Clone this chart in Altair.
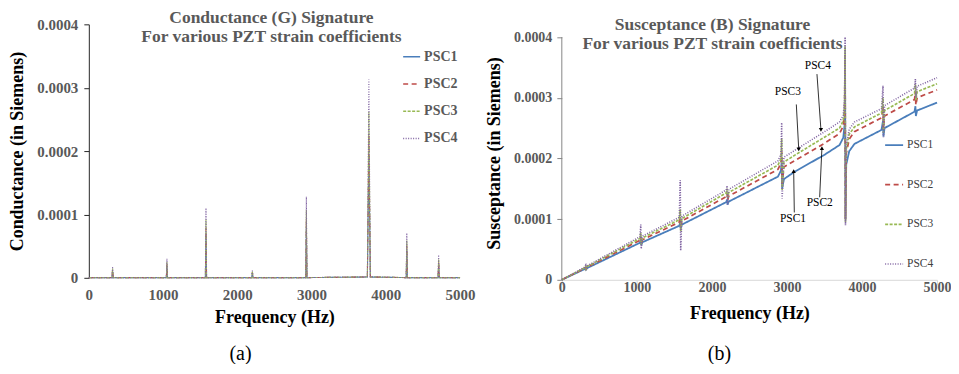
import altair as alt
import pandas as pd

SERIF = "Liberation Serif"
GRAY = "#595959"

SERIES = ["PSC1", "PSC2", "PSC3", "PSC4"]
COLORS = ["#4A7EBB", "#BE4B48", "#98B954", "#8064A2"]
DASHES = [[1, 0], [5, 3.5], [3, 1.5], [1, 1.5]]
WIDTHS = [1.8, 1.6, 1.4, 1.1]

X_TICKS = [0, 1000, 2000, 3000, 4000, 5000]
Y_TICKS = [0, 0.0001, 0.0002, 0.0003, 0.0004]

# ---- Conductance (G), values in micro-Siemens ----
g_freq = [0, 312, 320, 328, 1044, 1052, 1060, 1570, 1578, 1586, 2195, 2203, 2211,
          2922, 2930, 2938, 3752, 3772, 3792, 4275, 4283, 4291, 4704, 4712, 4720, 5000]
g_psc1 = [0.3, 0.3, 11, 0.3, 0.3, 18.5, 0.3, 0.3, 68, 0.3, 0.3, 8, 0.3,
          0.3, 79, 0.3, 1.2, 194, 1.2, 0.3, 44, 0.3, 0.3, 22, 0.3, 0.3]
g_psc2 = [0.3, 0.3, 12.7, 0.3, 0.3, 21.5, 0.3, 0.3, 79, 0.3, 0.3, 9, 0.3,
          0.3, 92, 0.3, 1.3, 225, 1.3, 0.3, 51, 0.3, 0.3, 26, 0.3, 0.3]
g_psc3 = [0.3, 0.3, 14.8, 0.3, 0.3, 25, 0.3, 0.3, 92, 0.3, 0.3, 10.5, 0.3,
          0.3, 107, 0.3, 1.4, 262, 1.4, 0.3, 59, 0.3, 0.3, 30, 0.3, 0.3]
g_psc4 = [0.3, 0.3, 17.7, 0.3, 0.3, 30, 0.3, 0.3, 110, 0.3, 0.3, 12.6, 0.3,
          0.3, 128, 0.3, 1.5, 313, 1.5, 0.3, 70.5, 0.3, 0.3, 36, 0.3, 0.3]

# ---- Susceptance (B), values in micro-Siemens ----
b_freq = [0, 300, 318, 324, 340, 1040, 1052, 1058, 1075, 1565, 1578, 1584, 1600,
          2190, 2203, 2208, 2225, 2880, 2920, 2930, 2936, 2960, 3100, 3500, 3700, 3750,
          3768, 3775, 3780, 3790, 3830, 3900, 4260, 4280, 4286, 4300, 4700, 4712, 4718, 4735, 5000]
b_psc1 = [0, 17.5, 19.5, 17, 19.5, 61, 66, 57, 62, 89, 94, 85, 91,
          128, 132, 124, 129, 170, 180, 195, 150, 166, 178, 206, 222, 234,
          255, 340, 100, 190, 212, 224, 247, 262, 236, 250, 277, 286, 270, 279, 292]
b_psc2 = [0, 18.7, 21, 18, 21, 65, 71, 60, 66, 95, 104, 87, 97,
          137, 143, 131, 138, 182, 192, 212, 158, 186, 196, 225, 241, 253,
          276, 370, 100, 208, 232, 244, 267, 285, 248, 270, 297, 310, 288, 300, 313]
b_psc3 = [0, 19.5, 22, 18.5, 22, 68, 77, 58, 69, 99, 116, 80, 101,
          143, 150, 135, 144, 189, 199, 232, 148, 194, 205, 235, 250, 262,
          286, 385, 95, 215, 240, 252, 275, 300, 242, 279, 307, 322, 296, 310, 323]
b_psc4 = [0, 20.3, 24, 18, 23, 71, 91, 51, 72, 103, 164, 48, 105,
          148, 155, 124, 149, 196, 206, 259, 134, 202, 213, 244, 260, 271,
          296, 400, 90, 222, 248, 260, 282, 320, 235, 287, 316, 331, 300, 319, 333]

# ---- annotations on susceptance chart ----
ann_labels = ["PSC4", "PSC3", "PSC2", "PSC1"]
ann_text_f = [3413, 3012, 3437, 3081]
ann_text_v = [352, 309, 126, 101]
ann_start_f = [3400, 3125, 3436, 3098]
ann_start_v = [339, 289, 136, 111]
ann_tip_f = [3453, 3157, 3466, 3090]
ann_tip_v = [247, 215, 217, 179]
ann_head = ["triangle-down", "triangle-down", "triangle-up", "triangle-up"]


def long_df(freq, lists):
    rows = []
    for s, vals in zip(SERIES, lists):
        for f, v in zip(freq, vals):
            rows.append({"series": s, "freq": f, "value": v * 1e-6})
    return pd.DataFrame(rows)


g_df = long_df(g_freq, [g_psc1, g_psc2, g_psc3, g_psc4])
b_df = long_df(b_freq, [b_psc1, b_psc2, b_psc3, b_psc4])
ann_df = pd.DataFrame({
    "label": ann_labels,
    "tf": ann_text_f, "tv": [v * 1e-6 for v in ann_text_v],
    "sf": ann_start_f, "sv": [v * 1e-6 for v in ann_start_v],
    "pf": ann_tip_f, "pv": [v * 1e-6 for v in ann_tip_v],
    "head": ann_head,
})


def legend(x, y, bold, size, fs, rowpad):
    return alt.Legend(
        title=None, orient="none", legendX=x, legendY=y, symbolType="stroke",
        symbolSize=size, symbolStrokeWidth=1.5, labelFont=SERIF, labelFontSize=fs,
        labelFontWeight="bold" if bold else "normal", labelColor=GRAY if bold else "#404040",
        rowPadding=rowpad, labelOffset=3, padding=0,
    )


def title(first_line, dx):
    return alt.TitleParams(
        text=[first_line, "For various PZT strain coefficients"],
        font=SERIF, fontSize=17.5, fontWeight="bold", color=GRAY, anchor="middle",
        frame="group", offset=-28, lineHeight=19, dx=dx,
    )


# ---------------- left chart ----------------
lg = legend(314, 23, True, 289, 14, 10.3)
left_lines = alt.Chart(g_df).mark_line(strokeWidth=1.1).encode(
    x=alt.X("freq:Q", scale=alt.Scale(domain=[0, 5000], nice=False),
            axis=alt.Axis(values=X_TICKS, format="d", title="Frequency (Hz)", domain=False,
                          ticks=False, tickSize=0, labelPadding=10, labelFlush=False,
                          labelFont=SERIF, labelFontSize=15, labelFontWeight="bold",
                          labelColor=GRAY, titleFont=SERIF, titleFontSize=18,
                          titleFontWeight="bold", titleColor="#000000", titlePadding=5.5,
                          grid=False)),
    y=alt.Y("value:Q", scale=alt.Scale(domain=[0, 0.0004], nice=False),
            axis=alt.Axis(values=Y_TICKS, format=".4~f", title="Conductance (in Siemens)",
                          domainColor="#262626", tickColor="#262626", tickSize=5,
                          labelPadding=6, labelFont=SERIF, labelFontSize=15,
                          labelFontWeight="bold", labelColor=GRAY, titleFont=SERIF,
                          titleFontSize=18, titleFontWeight="bold", titleColor="#000000",
                          titlePadding=10, grid=False)),
    color=alt.Color("series:N", scale=alt.Scale(domain=SERIES, range=COLORS), legend=lg),
    strokeDash=alt.StrokeDash("series:N", scale=alt.Scale(domain=SERIES, range=DASHES), legend=lg),
)
cap_a = alt.Chart(pd.DataFrame({"cap": ["(a)"]})).mark_text(
    font=SERIF, fontSize=20, color="#000000", baseline="middle", align="center"
).encode(text="cap:N", x=alt.value(152), y=alt.value(330))

left = alt.layer(left_lines, cap_a).properties(
    width=372, height=254, title=title("Conductance (G) Signature", -3)
)

# ---------------- right chart ----------------
rg = legend(323, 111, False, 324, 11.5, 23.7)
right_lines = alt.Chart(b_df).mark_line().encode(
    x=alt.X("freq:Q", scale=alt.Scale(domain=[0, 5000], nice=False),
            axis=alt.Axis(values=X_TICKS, format="d", title="Frequency (Hz)",
                          domainColor="#D9D9D9", tickColor="#D9D9D9", tickSize=5,
                          labelPadding=-4, labelFlush=False, labelFont=SERIF, labelFontSize=14,
                          labelFontWeight="bold", labelColor=GRAY, titleFont=SERIF,
                          titleFontSize=18, titleFontWeight="bold", titleColor="#000000",
                          titlePadding=10, grid=False)),
    y=alt.Y("value:Q", scale=alt.Scale(domain=[0, 0.000421], nice=False),
            axis=alt.Axis(values=Y_TICKS, format=".4~f", title="Susceptance (in Siemens)",
                          domain=False, tickColor="#868686", tickSize=5, labelPadding=5,
                          labelFont=SERIF, labelFontSize=14, labelFontWeight="bold",
                          labelColor=GRAY, titleFont=SERIF, titleFontSize=18,
                          titleFontWeight="bold", titleColor="#000000", titlePadding=10,
                          titleY=129, grid=False)),
    color=alt.Color("series:N", scale=alt.Scale(domain=SERIES, range=COLORS), legend=rg),
    strokeDash=alt.StrokeDash("series:N", scale=alt.Scale(domain=SERIES, range=DASHES), legend=rg),
    strokeWidth=alt.StrokeWidth("series:N", scale=alt.Scale(domain=SERIES, range=WIDTHS), legend=None),
)
y_axis_line = alt.Chart(pd.DataFrame({"a": [0]})).mark_rule(color="#868686", strokeWidth=1).encode(
    x=alt.value(0), y=alt.datum(Y_TICKS[0]), y2=alt.datum(Y_TICKS[-1])
)
arrows = alt.Chart(ann_df).mark_rule(color="#000000", strokeWidth=0.8).encode(
    x="sf:Q", y="sv:Q", x2="pf:Q", y2="pv:Q"
)
heads = alt.Chart(ann_df).mark_point(filled=True, color="#000000", size=18, opacity=1).encode(
    x="pf:Q", y="pv:Q", shape=alt.Shape("head:N", scale=None)
)
ann_text = alt.Chart(ann_df).mark_text(font=SERIF, fontSize=11.5, color="#000000").encode(
    x="tf:Q", y="tv:Q", text="label:N"
)
cap_b = alt.Chart(pd.DataFrame({"cap": ["(b)"]})).mark_text(
    font=SERIF, fontSize=20, color="#000000", baseline="middle", align="center"
).encode(text="cap:N", x=alt.value(158), y=alt.value(330))

right = alt.layer(right_lines, y_axis_line, arrows, heads, ann_text, cap_b).properties(
    width=376, height=256, title=title("Susceptance (B) Signature", -37)
)

chart = alt.hconcat(left, right, spacing=10).resolve_scale(
    color="independent", strokeDash="independent", strokeWidth="independent"
).resolve_legend(color="independent", strokeDash="independent").properties(
    padding={"left": 0, "top": 0, "right": 0, "bottom": 0}
).configure_view(stroke=None)

chart.save("out.html", embed_options={"renderer": "svg", "actions": False})
